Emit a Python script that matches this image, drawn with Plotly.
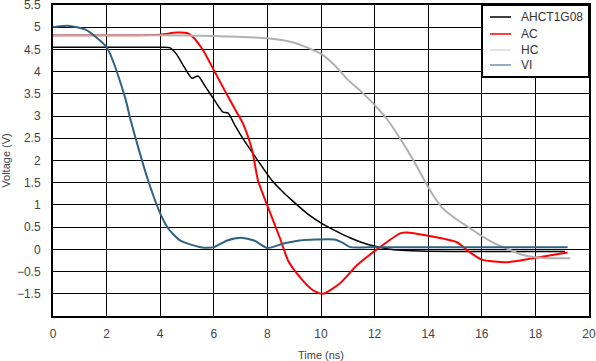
import plotly.graph_objects as go

# AHCT1G08 (black)
t_ahct = [0, 1, 2, 3, 4, 4.35, 4.6, 4.9, 5.19, 5.41, 5.7, 6.0, 6.34, 6.53, 6.8, 7.1, 7.46, 8.17, 8.6, 8.96, 9.5, 10.07, 10.6, 11.08, 11.5, 11.94, 12.5, 13, 14, 16, 18, 19.1]
v_ahct = [4.55, 4.55, 4.55, 4.55, 4.55, 4.54, 4.4, 4.1, 3.85, 3.9, 3.65, 3.38, 3.09, 3.07, 2.78, 2.48, 2.16, 1.55, 1.28, 1.08, 0.8, 0.57, 0.4, 0.26, 0.16, 0.08, 0.01, -0.02, -0.04, -0.05, -0.05, -0.05]

# AC (red)
t_ac = [0, 2, 4, 4.6, 5.0, 5.22, 5.6, 6.04, 6.6, 7.09, 7.43, 7.65, 8.02, 8.47, 8.77, 9.22, 9.7, 10.07, 10.7, 11.34, 12.2, 12.95, 13.2, 13.95, 15.07, 15.56, 16.0, 16.94, 17.91, 19.2]
v_ac = [4.82, 4.82, 4.83, 4.88, 4.87, 4.78, 4.48, 3.99, 3.36, 2.83, 2.23, 1.55, 0.95, 0.25, -0.25, -0.63, -0.92, -1.0, -0.77, -0.36, 0.05, 0.36, 0.38, 0.31, 0.16, -0.07, -0.23, -0.29, -0.2, -0.07]

# HC (light grey)
t_hc = [0, 2, 4, 6, 8, 9, 10, 10.5, 11, 11.5, 12, 12.5, 13, 13.5, 14, 14.5, 15, 15.5, 16, 16.5, 17, 17.5, 18, 18.5, 19.3]
v_hc = [4.82, 4.82, 4.82, 4.8, 4.75, 4.65, 4.4, 4.15, 3.82, 3.55, 3.25, 2.9, 2.45, 1.95, 1.4, 0.95, 0.7, 0.5, 0.3, 0.13, 0.0, -0.12, -0.18, -0.2, -0.2]

# VI (steel blue)
t_vi = [0, 0.6, 1.2, 2.0, 2.69, 2.87, 3.2, 3.55, 4.0, 4.3, 4.74, 5.5, 6.0, 6.5, 7.0, 7.5, 8.0, 8.6, 9.2, 9.8, 10.5, 10.8, 11.1, 12, 14, 16, 18, 19.2]
v_vi = [5.0, 5.03, 4.95, 4.55, 3.42, 2.97, 2.25, 1.55, 0.81, 0.47, 0.2, 0.05, 0.05, 0.2, 0.26, 0.2, 0.03, 0.13, 0.2, 0.22, 0.22, 0.15, 0.05, 0.05, 0.05, 0.05, 0.05, 0.05]

series_names = ["AHCT1G08", "AC", "HC", "VI"]

y_tickvals = [-1, -0.5, 0, 0.5, 1, 1.5, 2, 2.5, 3, 3.5, 4, 4.5, 5, 5.5]
y_ticktext = ["\u22121.5", "\u22120.5", "0", "0.5", "1", "1.5", "2", "2.5", "3", "3.5", "4", "4.5", "5", "5.5"]
x_tickvals = [0, 2, 4, 6, 8, 10, 12, 14, 16, 18, 20]
x_ticktext = ["0", "2", "4", "6", "8", "10", "12", "14", "16", "18", "20"]

colors = ["#000000", "#ff0000", "#b0b0b0", "#2f6282"]
widths = [1.5, 2, 2, 2]
data = [(t_ahct, v_ahct), (t_ac, v_ac), (t_hc, v_hc), (t_vi, v_vi)]

fig = go.Figure()
for (tx, vy), name, c, w in zip(data, series_names, colors, widths):
    fig.add_trace(go.Scatter(x=tx, y=vy, name=name, mode="lines", showlegend=False,
                             line=dict(color=c, width=w, shape="spline", smoothing=0.6)))

# custom legend box (paper coordinates)
shapes = [dict(type="rect", xref="paper", yref="paper", x0=0.8004, x1=1.0, y0=0.7685, y1=1.0,
               fillcolor="white", line=dict(color="#000000", width=2), layer="above")]
annotations = []
row_y = [0.9614, 0.9068, 0.8553, 0.8071]
legend_line_colors = ["#000000", "#ff0000", "#d8d8d8", "#6f93ad"]
for name, c, ry in zip(series_names, legend_line_colors, row_y):
    shapes.append(dict(type="line", xref="paper", yref="paper", x0=0.8153, x1=0.8545, y0=ry, y1=ry,
                       line=dict(color=c, width=1.5), layer="above"))
    annotations.append(dict(xref="paper", yref="paper", x=0.8695, y=ry, text=name, showarrow=False,
                            xanchor="left", yanchor="middle",
                            font=dict(size=12, color="#333333")))

font_family = "Liberation Sans, Arial, sans-serif"
fig.update_layout(
    width=596, height=361,
    margin=dict(l=53, r=7, t=5, b=45, autoexpand=False),
    paper_bgcolor="white", plot_bgcolor="white",
    font=dict(family=font_family, size=12, color="#444444"),
    showlegend=False,
    shapes=shapes, annotations=annotations,
    xaxis=dict(range=[0, 20], tickvals=x_tickvals, ticktext=x_ticktext,
               showgrid=True, gridcolor="#000000", gridwidth=1,
               showline=True, linecolor="#000000", linewidth=2, mirror=True,
               zeroline=False, ticks="", automargin=False, ticklabelstandoff=6,
               ticklabeloverflow="allow",
               tickfont=dict(size=12, color="#444444"),
               title=dict(text="Time (ns)", font=dict(size=11, color="#444444"), standoff=12)),
    yaxis=dict(range=[-1.5, 5.5], tickvals=y_tickvals, ticktext=y_ticktext,
               showgrid=True, gridcolor="#000000", gridwidth=1,
               showline=True, linecolor="#000000", linewidth=2, mirror=True,
               zeroline=False, ticks="", automargin=False, ticklabelstandoff=8,
               ticklabeloverflow="allow",
               tickfont=dict(size=12, color="#444444"),
               title=dict(text="Voltage (V)", font=dict(size=11, color="#444444"), standoff=4)),
)

fig.write_html("out.html", config={"displayModeBar": False},
               post_script="document.body.style.margin='0';document.body.style.overflow='hidden';")
